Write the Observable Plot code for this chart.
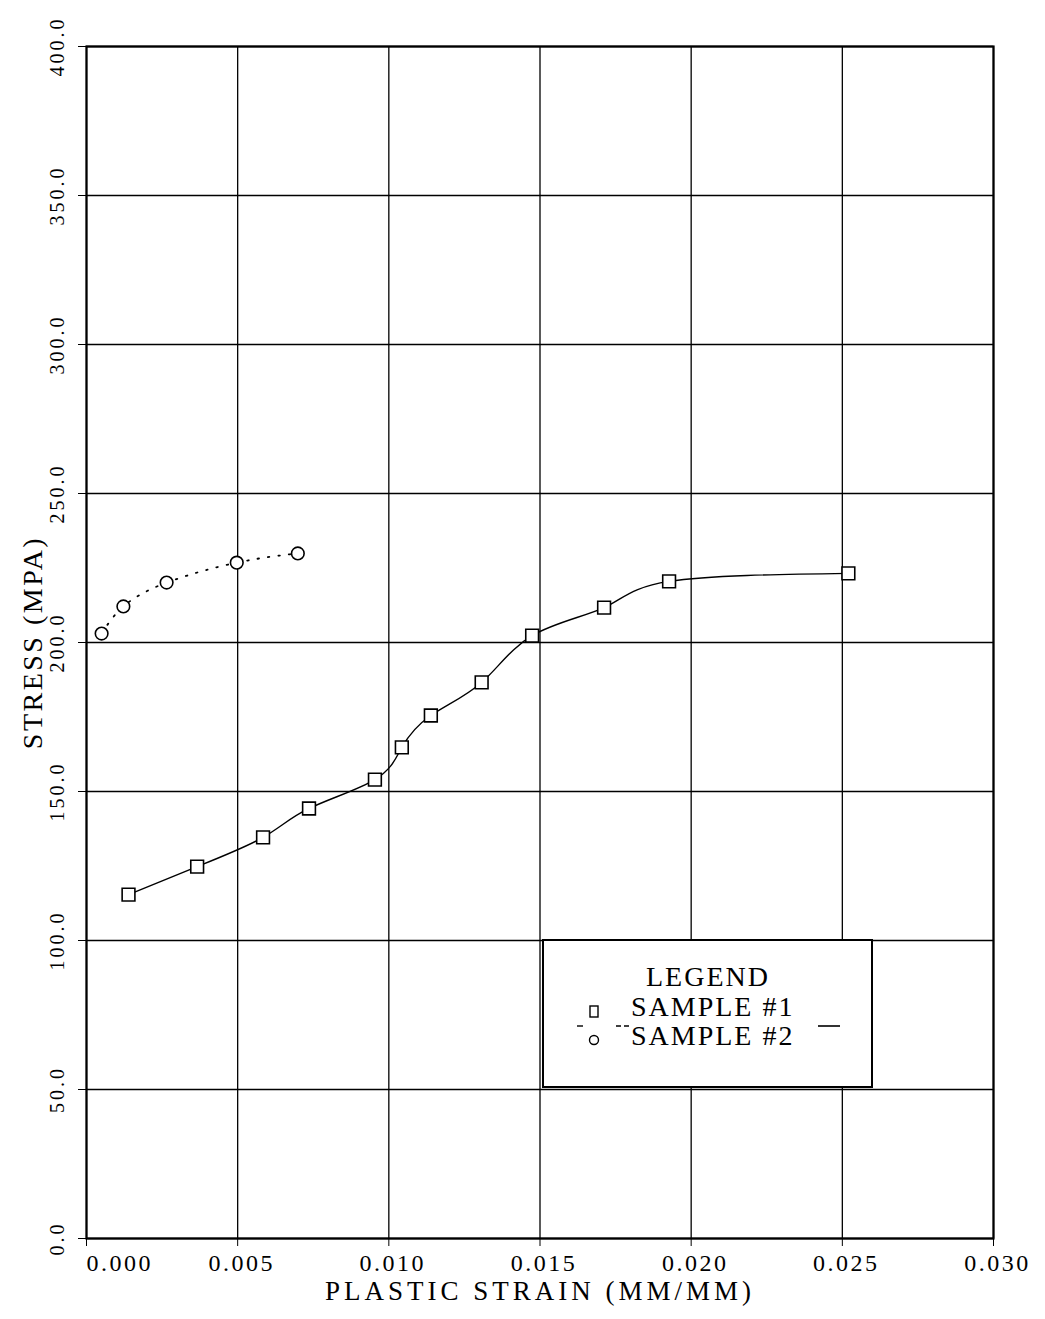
<!DOCTYPE html>
<html>
<head>
<meta charset="utf-8">
<script src="https://cdn.jsdelivr.net/npm/d3@7"></script>
<script src="https://cdn.jsdelivr.net/npm/@observablehq/plot@0.6"></script>
<style>
  body { margin: 0; background: white; }
  #wrap { position: relative; width: 1045px; height: 1319px; background: white; }
  #wrap svg { display: block; }
  #legend { position: absolute; left: 542px; top: 939px; width: 331px; height: 149px;
            border: 2px solid black; box-sizing: border-box; background: white; }
  #legend svg text { font-family: "Liberation Serif", serif; letter-spacing: 2px; }
</style>
</head>
<body>
<div id="wrap"></div>
<script>
// ---- data ----
const xTicks = [0, 0.005, 0.010, 0.015, 0.020, 0.025, 0.030];
const yTicks = [0, 50, 100, 150, 200, 250, 300, 350, 400];
const xTitle = "PLASTIC STRAIN (MM/MM)";
const yTitle = "STRESS (MPA)";
const legendTitle = "LEGEND";
const seriesNames = ["SAMPLE #1", "SAMPLE #2"];

const sample1Strain = [0.00139, 0.00366, 0.00584, 0.00736, 0.00954, 0.01043, 0.01139, 0.01307, 0.01474, 0.01712, 0.01927, 0.0252];
const sample1Stress = [115.4, 124.8, 134.6, 144.3, 154.0, 164.8, 175.5, 186.6, 202.3, 211.7, 220.5, 223.2];
const sample2Strain = [0.0005, 0.00122, 0.00265, 0.00497, 0.00699];
const sample2Stress = [203.0, 212.1, 220.1, 226.8, 229.9];

const s1 = sample1Strain.map((x, i) => ({x, y: sample1Stress[i]}));
const s2 = sample2Strain.map((x, i) => ({x, y: sample2Stress[i]}));

const chart = Plot.plot({
  width: 1045,
  height: 1319,
  marginLeft: 86,
  marginRight: 52,
  marginTop: 46,
  marginBottom: 81,
  style: {fontFamily: "'Liberation Serif', serif", background: "white", color: "black"},
  x: {domain: [0, 0.03], ticks: xTicks, tickSize: 8, tickFormat: () => "", label: null},
  y: {domain: [0, 400], ticks: yTicks, tickSize: 8, tickFormat: () => "", label: null},
  marks: [
    Plot.ruleX(xTicks, {stroke: "black", strokeWidth: 1.3}),
    Plot.ruleY(yTicks, {stroke: "black", strokeWidth: 1.3}),
    Plot.frame({stroke: "black", strokeWidth: 2.2}),
    // x tick labels
    Plot.text(xTicks.slice(0, 1), {x: d => d, frameAnchor: "bottom", dy: 25, textAnchor: "start", lineAnchor: "middle",
      text: d => d.toFixed(3), fontSize: 24, fill: "black"}),
    Plot.text(xTicks.slice(1), {x: d => d, frameAnchor: "bottom", dy: 25, dx: 4, textAnchor: "middle", lineAnchor: "middle",
      text: d => d.toFixed(3), fontSize: 24, fill: "black"}),
    // y tick labels (rotated)
    Plot.text(yTicks, {y: d => d, frameAnchor: "left", dx: -29, rotate: -90, textAnchor: "middle", lineAnchor: "middle",
      text: d => d.toFixed(1), fontSize: 20, fill: "black"}),
    // axis titles
    Plot.text([xTitle], {frameAnchor: "bottom", dy: 53, textAnchor: "middle", lineAnchor: "middle",
      text: d => d, fontSize: 27, fill: "black"}),
    Plot.text([yTitle], {frameAnchor: "left", dx: -53, rotate: -90, textAnchor: "middle", lineAnchor: "middle",
      text: d => d, fontSize: 28, fill: "black"}),
    // sample 1: solid spline with squares
    Plot.line(s1, {x: "x", y: "y", curve: "natural", stroke: "black", strokeWidth: 1.4}),
    Plot.dot(s1, {x: "x", y: "y", symbol: "square", r: 7.2, fill: "white", stroke: "black", strokeWidth: 1.6}),
    // sample 2: dotted spline with circles
    Plot.line(s2, {x: "x", y: "y", curve: "natural", stroke: "black", strokeWidth: 1.8,
      strokeDasharray: "1.5 9", strokeLinecap: "round"}),
    Plot.dot(s2, {x: "x", y: "y", symbol: "circle", r: 6.3, fill: "white", stroke: "black", strokeWidth: 1.6})
  ]
});

// letter spacing by text group font size (reference typeface is wide)
const spacing = {"24": "2.5px", "20": "3px", "27": "4px", "28": "2.5px"};
chart.querySelectorAll("g").forEach(g => {
  const fs = (g.getAttribute("font-size") || "").replace("px", "");
  if (spacing[fs]) g.setAttribute("letter-spacing", spacing[fs]);
});

const wrap = document.getElementById("wrap");
wrap.appendChild(chart);

// legend box overlay
const legend = document.createElement("div");
legend.id = "legend";
legend.innerHTML = `
<svg width="327" height="145" xmlns="http://www.w3.org/2000/svg">
  <text x="164" y="39" text-anchor="middle" dominant-baseline="middle" font-size="28">${legendTitle}</text>
  <text x="87" y="69" dominant-baseline="middle" font-size="28">${seriesNames[0]}</text>
  <text x="87" y="98" dominant-baseline="middle" font-size="28">${seriesNames[1]}</text>
  <rect x="46" y="65" width="8" height="11" fill="white" stroke="black" stroke-width="1.4"/>
  <circle cx="50" cy="99" r="4.5" fill="white" stroke="black" stroke-width="1.4"/>
  <line x1="33" y1="85" x2="39" y2="85" stroke="black" stroke-width="1.4"/>
  <line x1="72" y1="85" x2="86" y2="85" stroke="black" stroke-width="1.4" stroke-dasharray="5 3"/>
  <line x1="274" y1="85" x2="296" y2="85" stroke="black" stroke-width="1.6"/>
</svg>`;
wrap.appendChild(legend);
</script>
</body>
</html>
